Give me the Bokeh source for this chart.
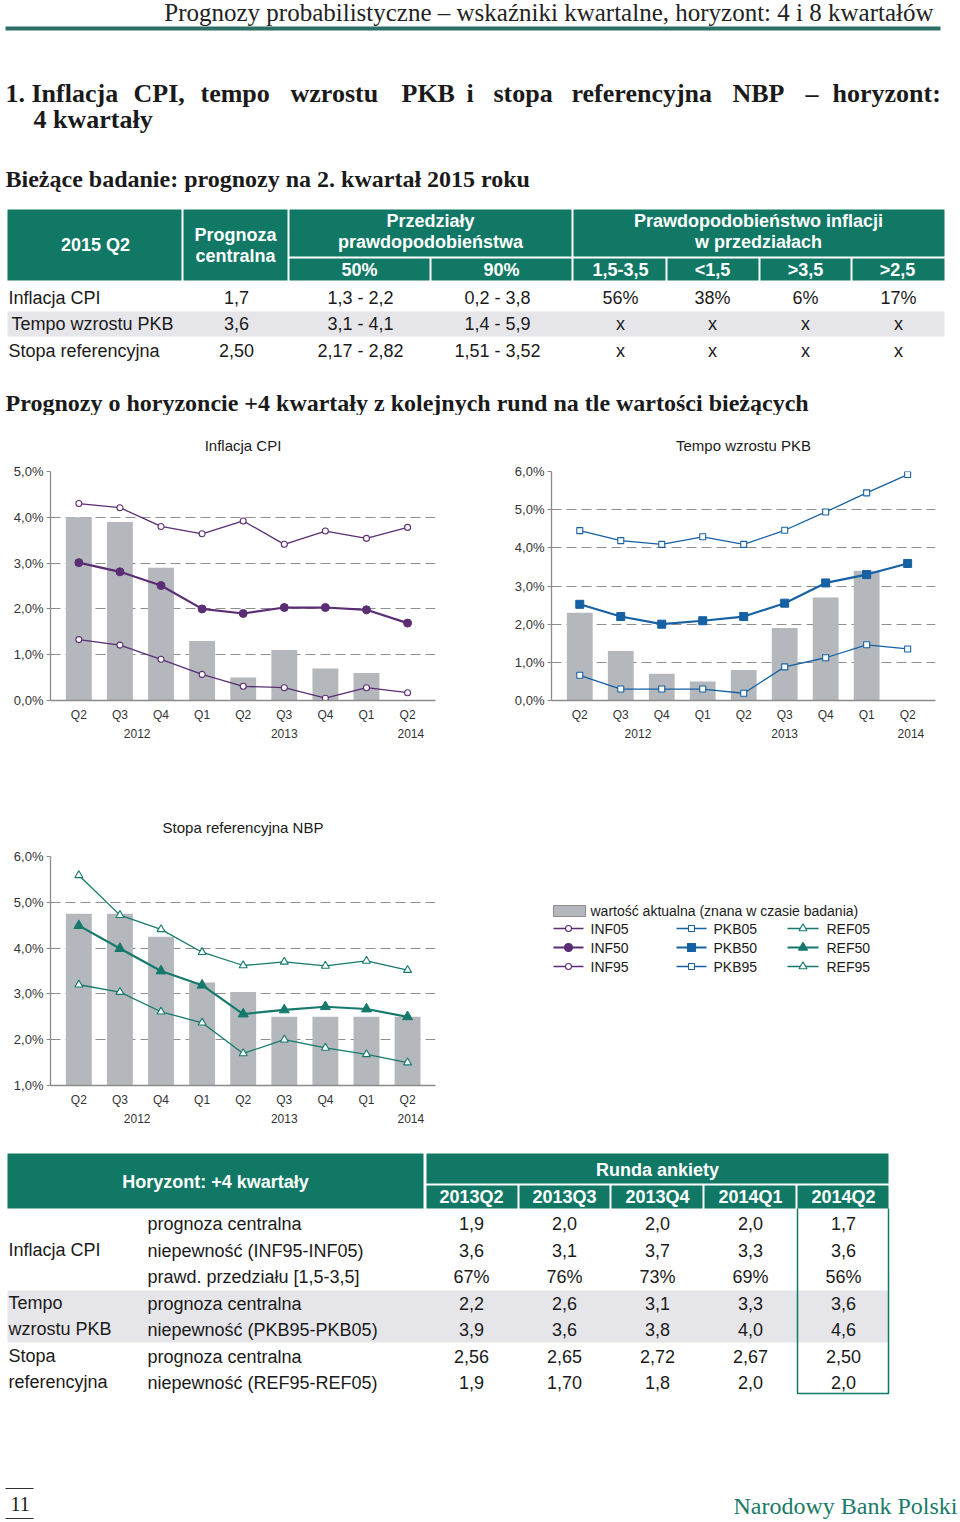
import math
from bokeh.plotting import figure
from bokeh.layouts import column, row
from bokeh.models import ColumnDataSource, Range1d, FixedTicker, LinearAxis
from bokeh.core.properties import value
from bokeh.embed import file_html
from bokeh.resources import INLINE

NaN = float("nan")

# ---------------- data ----------------
quarters = ["Q2", "Q3", "Q4", "Q1", "Q2", "Q3", "Q4", "Q1", "Q2"]
year_labels = ["2012", "2013", "2014"]
year_pos = [1.42, 5.0, 8.08]

cpi_actual = [4.0, 3.9, 2.9, 1.3, 0.5, 1.1, 0.7, 0.6, NaN]
inf95 = [4.30, 4.21, 3.80, 3.64, 3.92, 3.41, 3.70, 3.54, 3.78]
inf50 = [3.01, 2.81, 2.51, 2.00, 1.90, 2.03, 2.03, 1.98, 1.69]
inf05 = [1.33, 1.21, 0.90, 0.57, 0.31, 0.28, 0.05, 0.28, 0.17]

pkb_actual = [2.3, 1.3, 0.7, 0.5, 0.8, 1.9, 2.7, 3.4, NaN]
pkb95 = [4.45, 4.19, 4.09, 4.29, 4.09, 4.46, 4.94, 5.44, 5.92]
pkb50 = [2.52, 2.20, 2.00, 2.09, 2.20, 2.55, 3.08, 3.30, 3.59]
pkb05 = [0.66, 0.30, 0.30, 0.30, 0.19, 0.88, 1.12, 1.46, 1.35]

ref_actual = [4.75, 4.75, 4.25, 3.25, 3.04, 2.50, 2.50, 2.50, 2.50]
ref95 = [5.59, 4.72, 4.41, 3.91, 3.62, 3.70, 3.61, 3.72, 3.52]
ref50 = [4.49, 3.99, 3.50, 3.19, 2.56, 2.65, 2.72, 2.67, 2.50]
ref05 = [3.20, 3.04, 2.61, 2.37, 1.70, 2.00, 1.82, 1.68, 1.50]

legend_bar_label = "wartość aktualna (znana w czasie badania)"
inf_names = ["INF05", "INF50", "INF95"]
pkb_names = ["PKB05", "PKB50", "PKB95"]
ref_names = ["REF05", "REF50", "REF95"]

# table 1 (current survey, 2015 Q2)
t1_rows = ["Inflacja CPI", "Tempo wzrostu PKB", "Stopa referencyjna"]
t1_central = ["1,7", "3,6", "2,50"]
t1_int50 = ["1,3 - 2,2", "3,1 - 4,1", "2,17 - 2,82"]
t1_int90 = ["0,2 - 3,8", "1,4 - 5,9", "1,51 - 3,52"]
t1_bins = ["1,5-3,5", "<1,5", ">3,5", ">2,5"]
t1_probs = [["56%", "38%", "6%", "17%"], ["x", "x", "x", "x"], ["x", "x", "x", "x"]]

# table 2 (horizon +4 quarters)
rounds = ["2013Q2", "2013Q3", "2013Q4", "2014Q1", "2014Q2"]
inf_central = ["1,9", "2,0", "2,0", "2,0", "1,7"]
inf_unc = ["3,6", "3,1", "3,7", "3,3", "3,6"]
inf_prob = ["67%", "76%", "73%", "69%", "56%"]
pkb_central = ["2,2", "2,6", "3,1", "3,3", "3,6"]
pkb_unc = ["3,9", "3,6", "3,8", "4,0", "4,6"]
ref_central = ["2,56", "2,65", "2,72", "2,67", "2,50"]
ref_unc = ["1,9", "1,70", "1,8", "2,0", "2,0"]

title_words = ["1.", "Inflacja", "CPI,", "tempo", "wzrostu", "PKB", "i", "stopa",
               "referencyjna", "NBP", "–", "horyzont:"]

# ---------------- styles ----------------
TEAL = "#127866"
BAND = "#e6e6ea"
BAR = "#b4b8bc"
GRID = "#8e8e8e"
AXC = "#8a8a8a"
C_INF = "#5b2d74"
C_PKB = "#1660a4"
C_REF = "#15796d"
SANS = "Liberation Sans"
SERIF = "Liberation Serif"
TXT = "#1a1a1a"


def put(p, xs, ys, texts, size, color=TXT, font=SANS, style="normal", align="left"):
    src = ColumnDataSource(dict(x=xs, y=ys, t=texts))
    p.text("x", "y", text="t", source=src, text_font=value(font),
           text_font_size=value(f"{size}px"), text_font_style=value(style),
           text_color=color, text_align=value(align), text_baseline=value("middle"))


def canvas(width, height, x0, x1, y_top, y_bottom, bt=0, bb=0):
    p = figure(width=width, height=height, x_range=Range1d(x0, x1), y_range=Range1d(y_bottom, y_top),
               output_backend="svg", toolbar_location=None, min_border=0,
               min_border_top=bt, min_border_bottom=bb,
               x_axis_type=None, y_axis_type=None)
    p.outline_line_color = None
    p.grid.visible = False
    return p


def pct(v):
    return f"{v:.1f}".replace(".", ",") + "%"


def make_chart(title, actual, s05, s50, s95, color, marker, yr, yticks, gticks,
               bl, br, bt, bb, height, sz50, szo, standoff):
    xs = list(range(len(quarters)))
    src = ColumnDataSource(dict(x=xs, actual=actual, s05=s05, s50=s50, s95=s95))
    p = figure(width=480, height=height, x_range=Range1d(-0.69, 8.68), y_range=Range1d(*yr),
               output_backend="svg", toolbar_location=None,
               min_border_left=bl, min_border_right=br, min_border_top=bt, min_border_bottom=bb)
    p.title.text = title
    p.title.align = "center"
    p.title.text_font = SANS
    p.title.text_font_style = "normal"
    p.title.text_font_size = "15px"
    p.title.text_color = TXT
    p.title.standoff = standoff
    p.outline_line_color = None
    p.xgrid.visible = False
    p.ygrid.ticker = FixedTicker(ticks=gticks)
    p.ygrid.grid_line_color = GRID
    p.ygrid.grid_line_dash = "10 5"
    p.ygrid.grid_line_width = 1.2

    xa = p.below[0]
    xa.ticker = FixedTicker(ticks=xs)
    xa.major_label_overrides = {i: q for i, q in zip(xs, quarters)}
    xa.major_tick_out = 0
    xa.major_tick_in = 0
    xa.major_tick_line_color = None
    xa.minor_tick_line_color = None
    xa.axis_line_color = AXC
    xa.axis_line_width = 1.3
    xa.major_label_standoff = 7
    xa.major_label_text_font = SANS
    xa.major_label_text_font_size = "12px"
    xa.major_label_text_color = "#333333"

    ya = p.left[0]
    ya.ticker = FixedTicker(ticks=yticks)
    ya.major_label_overrides = {v: pct(v) for v in yticks}
    ya.minor_tick_line_color = None
    ya.major_tick_out = 4
    ya.major_tick_in = 0
    ya.major_tick_line_color = AXC
    ya.axis_line_color = AXC
    ya.axis_line_width = 1.3
    ya.major_label_standoff = 3
    ya.major_label_text_font = SANS
    ya.major_label_text_font_size = "13px"
    ya.major_label_text_color = "#333333"

    yrax = LinearAxis(ticker=FixedTicker(ticks=year_pos),
                      major_label_overrides={v: t for v, t in zip(year_pos, year_labels)},
                      axis_line_color=None, major_tick_line_color=None, minor_tick_line_color=None,
                      major_tick_out=0, major_tick_in=0,
                      major_label_standoff=4, major_label_text_font=SANS,
                      major_label_text_font_size="12px", major_label_text_color="#333333")
    p.add_layout(yrax, "below")

    p.vbar(x="x", top="actual", bottom=yr[0], width=0.63, source=src, fill_color=BAR, line_color=None)
    p.line("x", "s95", source=src, line_color=color, line_width=1.3)
    p.line("x", "s05", source=src, line_color=color, line_width=1.3)
    p.line("x", "s50", source=src, line_color=color, line_width=2.2)
    p.scatter("x", "s95", source=src, marker=marker, size=szo, fill_color="white", line_color=color, line_width=1.1)
    p.scatter("x", "s05", source=src, marker=marker, size=szo, fill_color="white", line_color=color, line_width=1.1)
    p.scatter("x", "s50", source=src, marker=marker, size=sz50, fill_color=color, line_color=color)
    return p


# ---------------- top block ----------------
A = canvas(960, 415, 0, 960, 0, 415)
put(A, [933], [12], ["Prognozy probabilistyczne – wskaźniki kwartalne, horyzont: 4 i 8 kwartałów"], 25,
    color="#222222", font=SERIF, align="right")
A.segment(x0=[5], y0=[28], x1=[940], y1=[28], line_width=4, line_color="#2d6e66")
word_x = [5, 31, 133, 200, 290, 401, 466, 493, 571, 732, 805, 832]
put(A, word_x, [93] * len(title_words), title_words, 26, font=SERIF, style="bold")
put(A, [33], [119], ["4 kwartały"], 26, font=SERIF, style="bold")
put(A, [5], [178], ["Bieżące badanie: prognozy na 2. kwartał 2015 roku"], 24, font=SERIF, style="bold")

# table 1 header cells
h_left = [7, 183, 289, 289, 431, 573, 573, 667, 760, 852]
h_right = [181, 287, 571, 429, 571, 944, 665, 758, 850, 944]
h_top = [209, 209, 209, 258, 258, 209, 258, 258, 258, 258]
h_bot = [280, 280, 256, 280, 280, 256, 280, 280, 280, 280]
A.quad(left=h_left, right=h_right, top=h_top, bottom=h_bot, fill_color=TEAL, line_color=None)
put(A, [95], [244], ["2015 Q2"], 18, color="white", style="bold", align="center")
put(A, [235, 235], [234, 255], ["Prognoza", "centralna"], 18, color="white", style="bold", align="center")
put(A, [430, 430], [220, 241], ["Przedziały", "prawdopodobieństwa"], 18, color="white", style="bold", align="center")
put(A, [758, 758], [220, 241], ["Prawdopodobieństwo inflacji", "w przedziałach"], 18, color="white",
    style="bold", align="center")
put(A, [359, 501], [269, 269], ["50%", "90%"], 18, color="white", style="bold", align="center")
put(A, [620, 712, 805, 897], [269] * 4, t1_bins, 18, color="white", style="bold", align="center")
A.quad(left=[7], right=[944], top=[311], bottom=[336], fill_color=BAND, line_color=None)
ry = [297, 323, 350]
put(A, [8, 11, 8], ry, t1_rows, 18)
put(A, [236] * 3, ry, t1_central, 18, align="center")
put(A, [360] * 3, ry, t1_int50, 18, align="center")
put(A, [497] * 3, ry, t1_int90, 18, align="center")
for j, cx in enumerate([620, 712, 805, 898]):
    put(A, [cx] * 3, ry, [t1_probs[i][j] for i in range(3)], 18, align="center")
put(A, [5], [402], ["Prognozy o horyzoncie +4 kwartały z kolejnych rund na tle wartości bieżących"], 24,
    font=SERIF, style="bold")

# ---------------- charts ----------------
cpi = make_chart("Inflacja CPI", cpi_actual, inf05, inf50, inf95, C_INF, "circle",
                 (0, 5), [0, 1, 2, 3, 4, 5], [1, 2, 3, 4], 50, 45, 56, 50, 335, 8, 6, 36)
pkb = make_chart("Tempo wzrostu PKB", pkb_actual, pkb05, pkb50, pkb95, C_PKB, "square",
                 (0, 6), [0, 1, 2, 3, 4, 5, 6], [1, 2, 3, 4, 5], 71, 25, 56, 50, 335, 8, 6, 36)
ref = make_chart("Stopa referencyjna NBP", ref_actual, ref05, ref50, ref95, C_REF, "triangle",
                 (1, 6), [1, 2, 3, 4, 5, 6], [2, 3, 4, 5], 50, 45, 106, 50, 385, 10, 8, 42)

# ---------------- legend (drawn as key samples; frame aligned with REF chart frame) ----------------
L = canvas(480, 385, 480, 960, 856, 1085, bt=106, bb=50)
L.quad(left=[553], right=[585], top=[905], bottom=[916], fill_color=BAR, line_color="#8c8c8c")
put(L, [590], [910], [legend_bar_label], 14)
leg_y = [928, 947, 966]
for (lx0, lx1, tx, color, marker, names, s_open, s_fill) in [
        (553, 583, 590, C_INF, "circle", inf_names, 6, 8),
        (676, 706, 713, C_PKB, "square", pkb_names, 6, 8),
        (787, 818, 826, C_REF, "triangle", ref_names, 8, 9)]:
    mx = (lx0 + lx1) / 2
    L.segment(x0=[lx0] * 3, y0=leg_y, x1=[lx1] * 3, y1=leg_y, line_color=color,
              line_width=[1.3, 2.2, 1.3])
    L.scatter(x=[mx] * 3, y=leg_y, marker=marker, size=[s_open, s_fill, s_open],
              fill_color=["white", color, "white"], line_color=color, line_width=1.1)
    put(L, [tx] * 3, leg_y, names, 14)

# ---------------- bottom block ----------------
D = canvas(960, 385, 0, 960, 1135, 1520)
D.quad(left=[7, 426], right=[423, 888], top=[1153, 1153], bottom=[1208, 1183], fill_color=TEAL, line_color=None)
c_left = [426, 519, 611, 704, 797]
c_right = [517, 609, 702, 795, 888]
c_mid = [471, 564, 657, 750, 843]
D.quad(left=c_left, right=c_right, top=[1185] * 5, bottom=[1208] * 5, fill_color=TEAL, line_color=None)
put(D, [215], [1181], ["Horyzont: +4 kwartały"], 18, color="white", style="bold", align="center")
put(D, [657], [1169], ["Runda ankiety"], 18, color="white", style="bold", align="center")
put(D, c_mid, [1196] * 5, rounds, 18, color="white", style="bold", align="center")
D.quad(left=[7], right=[888], top=[1290], bottom=[1342], fill_color=BAND, line_color=None)
D.multi_line(xs=[[797, 797, 888, 888]], ys=[[1208, 1393, 1393, 1208]], line_color=TEAL, line_width=1.5)

row_y = [1223, 1250, 1276, 1303, 1329, 1356, 1382]
put(D, [8, 8, 8, 8, 8], [1249, 1302, 1328, 1355, 1381],
    ["Inflacja CPI", "Tempo", "wzrostu PKB", "Stopa", "referencyjna"], 18)
put(D, [147] * 7, row_y,
    ["prognoza centralna", "niepewność (INF95-INF05)", "prawd. przedziału [1,5-3,5]",
     "prognoza centralna", "niepewność (PKB95-PKB05)", "prognoza centralna", "niepewność (REF95-REF05)"], 18)
table_rows = [inf_central, inf_unc, inf_prob, pkb_central, pkb_unc, ref_central, ref_unc]
for yy, vals in zip(row_y, table_rows):
    put(D, c_mid, [yy] * 5, vals, 18, align="center")

D.segment(x0=[5, 5], y0=[1488, 1518], x1=[33, 33], y1=[1488, 1518], line_color="#333333", line_width=1.2)
put(D, [10], [1503], ["11"], 20, font=SERIF)
put(D, [957], [1505], ["Narodowy Bank Polski"], 24, color="#1a7a68", font=SERIF, align="right")

layout = column(A, row(cpi, pkb, spacing=0), row(ref, L, spacing=0), D, spacing=0)
open("out.html", "w").write(file_html(layout, INLINE))
